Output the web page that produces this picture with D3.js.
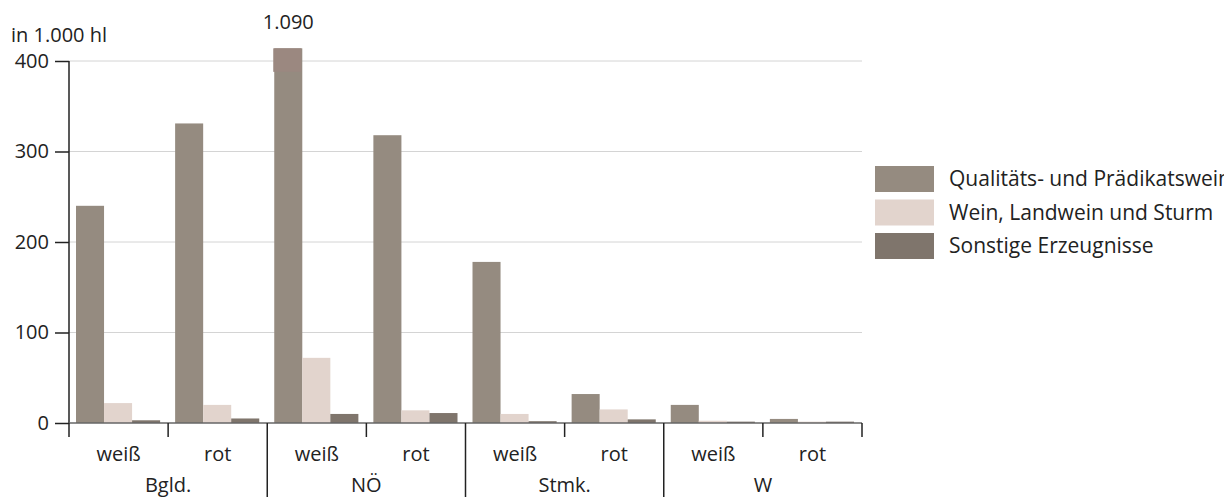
<!DOCTYPE html>
<html>
<head>
<meta charset="utf-8">
<script src="https://cdn.jsdelivr.net/npm/d3@7"></script>
<style>
  body { margin: 0; background: #fff; }
  text { font-family: "Open Sans", sans-serif; fill: #222; }
</style>
</head>
<body>
<svg id="chart"></svg>
<script>
// data
const regions = ['Bgld.', 'NÖ', 'Stmk.', 'W'];
const colours = ['weiß', 'rot'];
const series = ['Qualitäts- und Prädikatswein', 'Wein, Landwein und Sturm', 'Sonstige Erzeugnisse'];
// order: Bgld weiß, Bgld rot, NÖ weiß, NÖ rot, Stmk weiß, Stmk rot, W weiß, W rot
const qualitaet = [240, 331, 1090, 318, 178, 32, 20, 4.5];
const landwein  = [22, 20, 72, 14, 10, 15, 2.5, 1.5];
const sonstige  = [3, 5, 10, 11, 2, 4, 1.5, 1.5];
const yTicks = [0, 100, 200, 300, 400];
const unitLabel = 'in 1.000 hl';
const capValue = 414; // bars above this are cut and labelled

const colors = ['#958b80', '#e2d4cd', '#7f756c'];
const capColor = '#9b8880';
const fs = 20;

const W = 1224, H = 497;
const svg = d3.select('#chart').attr('width', W).attr('height', H);

const margin = { left: 69, right: 362, top: 61, bottom: 74 };
const x0 = margin.left, x1 = W - margin.right;
const yBase = H - margin.bottom;

const subKeys = [];
regions.forEach(r => colours.forEach(c => subKeys.push(r + '|' + c)));

const x = d3.scaleBand().domain(subKeys).range([x0, x1]);
const xr = d3.scaleBand().domain(regions).range([x0, x1]);
const xs = d3.scaleBand().domain(d3.range(series.length))
  .range([7, x.bandwidth() - 8]);
const y = d3.scaleLinear().domain([0, 400]).range([yBase, margin.top]);

// grid
svg.append('g')
  .selectAll('line')
  .data(yTicks.filter(d => d > 0))
  .join('line')
  .attr('x1', x0).attr('x2', x1)
  .attr('y1', d => y(d)).attr('y2', d => y(d))
  .attr('stroke', '#d4d4d4')
  .attr('stroke-width', 1);

// bars
const values = [qualitaet, landwein, sonstige];
values.forEach((vals, si) => {
  svg.append('g')
    .selectAll('rect')
    .data(vals)
    .join('rect')
    .attr('x', (d, i) => x(subKeys[i]) + xs(si))
    .attr('width', xs.bandwidth())
    .attr('y', d => y(Math.min(d, capValue)))
    .attr('height', d => y(0) - y(Math.min(d, capValue)))
    .attr('fill', colors[si]);
});

// cut bars: cap and value label
qualitaet.forEach((d, i) => {
  if (d > capValue) {
    const bx = x(subKeys[i]) + xs(0);
    svg.append('rect')
      .attr('x', bx - 1)
      .attr('width', xs.bandwidth())
      .attr('y', y(capValue))
      .attr('height', y(capValue - 26) - y(capValue))
      .attr('fill', capColor);
    svg.append('text')
      .attr('x', bx + xs.bandwidth() / 2)
      .attr('y', 29)
      .attr('text-anchor', 'middle')
      .attr('font-size', fs)
      .text(d3.format(',')(d).replace(/,/g, '.'));
  }
});

// y axis
const yAxis = svg.append('g')
  .attr('transform', `translate(${x0},0)`)
  .call(d3.axisLeft(y).tickValues(yTicks).tickSize(14).tickPadding(6));
yAxis.select('.domain').attr('stroke', '#222').attr('stroke-width', 1.5)
  .attr('d', `M0,${y(400)}V${y(0)}`);
yAxis.selectAll('.tick line').attr('stroke', '#222').attr('stroke-width', 1.5);
yAxis.selectAll('.tick text').attr('font-size', fs).attr('fill', '#222')
  .attr('font-family', '"Open Sans", sans-serif');

svg.append('text')
  .attr('x', 11).attr('y', 42)
  .attr('font-size', fs)
  .text(unitLabel);

// x axis baseline
svg.append('line')
  .attr('x1', x0).attr('x2', x1)
  .attr('y1', yBase).attr('y2', yBase)
  .attr('stroke', '#666').attr('stroke-width', 1.5);

// x ticks: short at subgroup edges, long between regions
const edges = subKeys.map(k => x(k)).concat([x1]);
svg.append('g')
  .selectAll('line')
  .data(edges)
  .join('line')
  .attr('x1', d => d).attr('x2', d => d)
  .attr('y1', yBase)
  .attr('y2', (d, i) => (i % 2 === 0 && i > 0 && i < edges.length - 1) ? H : yBase + 14)
  .attr('stroke', '#222').attr('stroke-width', 1.5);

// subgroup labels
svg.append('g')
  .selectAll('text')
  .data(subKeys)
  .join('text')
  .attr('x', d => x(d) + x.bandwidth() / 2)
  .attr('y', 461)
  .attr('text-anchor', 'middle')
  .attr('font-size', fs)
  .text(d => d.split('|')[1]);

// region labels
svg.append('g')
  .selectAll('text')
  .data(regions)
  .join('text')
  .attr('x', d => xr(d) + xr.bandwidth() / 2)
  .attr('y', 492)
  .attr('text-anchor', 'middle')
  .attr('font-size', fs)
  .text(d => d);

// legend
const legend = svg.append('g').attr('transform', 'translate(875,166)');
series.forEach((s, i) => {
  const g = legend.append('g').attr('transform', `translate(0,${i * 33.5})`);
  g.append('rect').attr('width', 59).attr('height', 26).attr('fill', colors[i]);
  g.append('text').attr('x', 74).attr('y', 20).attr('font-size', 21).text(s);
});
</script>
</body>
</html>
